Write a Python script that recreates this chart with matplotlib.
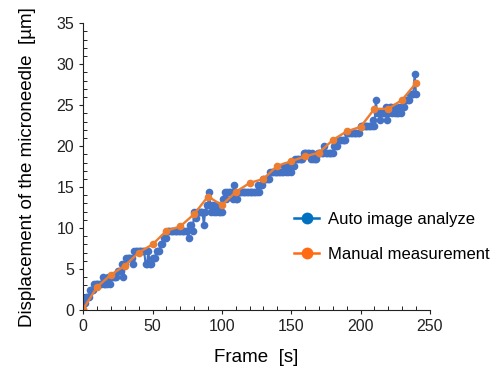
import numpy as np
import matplotlib
matplotlib.use("Agg")
import matplotlib.pyplot as plt
from matplotlib.lines import Line2D
from matplotlib.ticker import MultipleLocator

plt.rcParams.update({"font.family": ["Liberation Sans", "DejaVu Sans"], "font.size": 11})
AZUL = "#4472C4"; LARANJA = "#ED7D31"; AZUL_LEG = "#0070C0"; LARANJA_LEG = "#FF6A13"

# ── Dados ─────────────────────────────────────────────────────────────────────
auto_frame = np.arange(0, 241)
auto_desloc = [
    0.0, 0.8, 1.6, 1.6, 1.6, 2.4, 2.4, 2.4, 3.2, 3.2,
    3.2, 3.2, 3.2, 3.2, 4.0, 3.2, 3.2, 3.2, 4.0, 3.2,
    4.0, 4.0, 4.0, 4.0, 4.0, 4.8, 4.8, 4.8, 5.6, 4.0,
    5.6, 6.4, 6.4, 6.4, 6.4, 6.4, 5.6, 7.2, 7.2, 7.2,
    7.2, 7.2, 7.2, 7.2, 7.2, 5.6, 5.6, 7.2, 5.6, 5.6,
    6.4, 6.4, 6.4, 7.2, 7.2, 7.2, 8.0, 8.0, 8.8, 8.8,
    8.8, 9.6, 9.6, 9.6, 9.6, 9.6, 9.6, 9.6, 9.6, 9.6,
    9.6, 9.6, 9.6, 9.6, 9.6, 9.6, 8.8, 10.4, 10.4, 9.6,
    12.0, 11.2, 12.0, 12.0, 12.0, 12.0, 12.0, 10.4, 12.0, 12.8,
    12.8, 14.4, 12.0, 12.8, 12.0, 12.8, 12.0, 12.8, 12.0, 12.0,
    12.0, 13.6, 14.4, 13.6, 14.4, 14.4, 14.4, 14.4, 13.6, 15.2,
    13.6, 13.6, 14.4, 14.4, 14.4, 14.4, 14.4, 14.4, 14.4, 14.4,
    14.4, 14.4, 14.4, 14.4, 14.4, 14.4, 15.2, 14.4, 15.2, 15.2,
    16.0, 16.0, 16.0, 16.0, 16.0, 16.8, 16.8, 16.8, 16.8, 16.8,
    16.8, 16.8, 16.8, 16.8, 16.8, 17.6, 16.8, 17.6, 16.8, 17.6,
    16.8, 17.6, 17.6, 18.4, 18.4, 18.4, 18.4, 18.4, 18.4, 19.2,
    19.2, 19.2, 19.2, 19.2, 18.4, 19.2, 18.4, 18.4, 18.4, 19.2,
    19.2, 19.2, 19.2, 19.2, 20.0, 19.2, 19.2, 19.2, 19.2, 19.2,
    19.2, 20.0, 20.0, 20.0, 20.8, 20.8, 20.8, 20.8, 20.8, 20.8,
    21.6, 21.6, 21.6, 21.6, 21.6, 21.6, 21.6, 21.6, 21.6, 21.6,
    22.4, 22.4, 22.4, 22.4, 22.4, 22.4, 22.4, 22.4, 22.4, 23.2,
    22.4, 25.6, 24.0, 24.0, 23.2, 24.0, 24.0, 24.0, 24.8, 23.2,
    24.0, 24.8, 24.8, 24.0, 24.8, 24.0, 24.0, 24.0, 24.8, 24.0,
    24.8, 24.8, 25.6, 25.6, 25.6, 25.6, 26.4, 26.4, 26.4, 28.8,
    26.4,
]
manual_frame = [0, 10, 20, 30, 40, 50, 60, 70, 80, 90, 100, 110, 120,
                130, 140, 150, 160, 170, 180, 190, 200, 210, 220, 230, 240]
manual_desloc = [0.1, 2.8, 4.3, 5.4, 7.0, 8.0, 9.65, 10.2, 11.7, 13.85, 12.8, 14.4, 15.5,
                 16.0, 17.6, 18.15, 18.75, 19.2, 20.75, 21.8, 22.35, 24.55, 24.55, 25.65, 27.7]

# ── Figura ────────────────────────────────────────────────────────────────────
fig = plt.figure(figsize=(5.04, 3.69), dpi=100)
ax = fig.add_axes([0.165, 0.160, 0.688, 0.777])
ax.plot(auto_frame, auto_desloc, color=AZUL, lw=1.5, marker="o", ms=5.5, mew=0)
ax.plot(manual_frame, manual_desloc, color=LARANJA, lw=1.7, marker="o", ms=5.5, mew=0)

ax.set_xlim(0, 250); ax.set_ylim(0, 35)
ax.xaxis.set_major_locator(MultipleLocator(50)); ax.xaxis.set_minor_locator(MultipleLocator(10))
ax.yaxis.set_major_locator(MultipleLocator(5)); ax.yaxis.set_minor_locator(MultipleLocator(1))
ax.tick_params(which="major", direction="out", length=3, width=0.8, colors="#222222", labelsize=11.5)
ax.tick_params(which="minor", direction="in", length=3, width=0.7, colors="#222222")
for s in ("top", "right"):
    ax.spines[s].set_visible(False)
for s in ("left", "bottom"):
    ax.spines[s].set_color("#222222"); ax.spines[s].set_linewidth(0.8)

ax.set_xlabel("Frame  [s]", fontsize=13.5, labelpad=11)
ax.set_ylabel("Displacement of the microneedle  [µm]", fontsize=13.5, labelpad=15)

handles = [Line2D([], [], color=AZUL_LEG, lw=1.8, marker="o", ms=8.5, mew=0),
           Line2D([], [], color=LARANJA_LEG, lw=1.8, marker="o", ms=8.5, mew=0)]
fig.legend(handles, ["Auto image analyze", "Manual measurement"], loc="center left",
           bbox_to_anchor=(286 / 504, 1 - 237 / 369), frameon=False, fontsize=12,
           handlelength=1.5, handletextpad=0.5, labelspacing=1.2, borderpad=0)

fig.savefig("out.png", dpi=100)
